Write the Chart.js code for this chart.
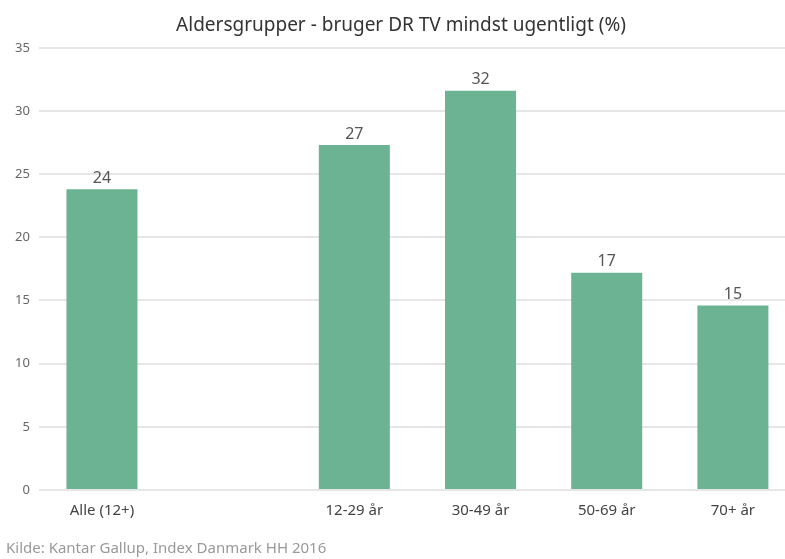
<!DOCTYPE html>
<html>
<head>
<meta charset="utf-8">
<script src="https://cdn.jsdelivr.net/npm/chart.js@4/dist/chart.umd.min.js"></script>
<style>
    html, body { margin: 0; padding: 0; background: #fff; overflow: hidden; }
    #wrap { position: relative; width: 796px; height: 559px; }
</style>
</head>
<body>
<div id="wrap"><canvas id="ageChart"></canvas></div>
<script>
// Age groups, with one empty slot between the total and the groups
const categories = ["Alle (12+)", "", "12-29 år", "30-49 år", "50-69 år", "70+ år"];
const shares = [23.8, null, 27.3, 31.6, 17.2, 14.6];
const yTicks = [0, 5, 10, 15, 20, 25, 30, 35];

// Draw the rounded value above every bar
const valueLabels = {
    id: "valueLabels",
    afterDatasetsDraw(chart) {
        const ctx = chart.ctx;
        const meta = chart.getDatasetMeta(0);
        ctx.save();
        ctx.font = "16px 'Noto Sans'";
        ctx.fillStyle = "#555";
        ctx.textAlign = "center";
        ctx.textBaseline = "bottom";
        meta.data.forEach((bar, i) => {
            if (shares[i] === null) return;
            ctx.fillText(Math.round(shares[i]), bar.x, bar.y - 3);
        });
        ctx.restore();
    }
};

const ctx = document.getElementById("ageChart").getContext("2d");
new Chart(ctx, {
    type: "bar",
    data: {
        labels: categories,
        datasets: [{
            data: shares,
            backgroundColor: "#6cb393",
            categoryPercentage: 1,
            barPercentage: 0.563
        }]
    },
    options: {
        responsive: true,
        maintainAspectRatio: false,
        animation: false,
        layout: { padding: { left: 6, right: 0, top: 0, bottom: 0 } },
        plugins: {
            legend: { display: false },
            tooltip: { enabled: false },
            title: {
                display: true,
                text: "Aldersgrupper - bruger DR TV mindst ugentligt (%)",
                color: "#333",
                font: { family: "'Noto Sans'", size: 19, weight: "normal" },
                padding: { top: 14, bottom: 11 }
            },
            subtitle: {
                display: true,
                position: "bottom",
                align: "start",
                text: "Kilde: Kantar Gallup, Index Danmark HH 2016",
                color: "#999",
                font: { family: "'Noto Sans'", size: 15 },
                padding: { top: 16, bottom: 1 }
            }
        },
        scales: {
            x: {
                grid: { display: false },
                border: { display: false },
                ticks: {
                    color: "#444",
                    font: { family: "'Noto Sans'", size: 15 },
                    padding: 4,
                    maxRotation: 0
                }
            },
            y: {
                min: 0,
                max: 35,
                afterBuildTicks(axis) {
                    axis.ticks = yTicks.map(v => ({ value: v }));
                },
                grid: { color: "#e6e6e6", lineWidth: 2, drawTicks: false },
                border: { display: false },
                ticks: {
                    color: "#666",
                    font: { family: "'Noto Sans'", size: 13 },
                    padding: 9
                }
            }
        }
    },
    plugins: [valueLabels]
});
</script>
</body>
</html>
